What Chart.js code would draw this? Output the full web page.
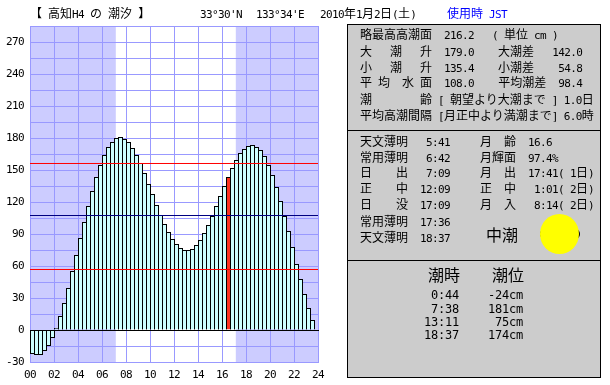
<!DOCTYPE html>
<html>
<head>
<meta charset="utf-8">
<script src="https://cdn.jsdelivr.net/npm/chart.js@4"></script>
<style>
html, body { margin: 0; padding: 0; background: #fff; }
#wrap { position: relative; width: 610px; height: 385px; overflow: hidden; }
canvas { position: absolute; left: 0; top: 0; }
#panel { position: absolute; left: 347px; top: 24px; width: 252px; height: 352px; background: #ccc; border: 1px solid #000; }
.rule { position: absolute; left: 347px; width: 254px; height: 1px; background: #000; }
.t { position: absolute; white-space: pre; font: 12px/16px "Noto Sans CJK JP", sans-serif; color: #000; }
.t span { font: 11px/16px "DejaVu Sans Mono", monospace; letter-spacing: -0.62px; }
.t.big { font-size: 16px; line-height: 20px; }
.t.mid span { font-size: 12px; letter-spacing: -0.22px; }
.blue { color: #00f; }
#moonEdge, #moon { position: absolute; border-radius: 50%; }
#moonEdge { left: 540px; top: 224px; width: 39.6px; height: 20px; background: #000; }
#moon { left: 540px; top: 214px; width: 39px; height: 40px; background: #ff0; }
</style>
</head>
<body>
<div id="wrap">
  <canvas id="tideChart" width="610" height="385"></canvas>
  <div id="panel"></div>
  <div class="rule" style="top:130px"></div>
  <div class="rule" style="top:260px"></div>
  <div id="moonEdge"></div>
  <div id="moon"></div>
</div>
<script>
var tideLevels = [
  -22.5, -23.44, -23.44, -19.69, -15, -7.5, 1.88, 13.13, 25.31, 39.38, 55.31, 70.31,
  86.25, 101.25, 116.25, 130.31, 143.44, 154.69, 164.06, 171.56, 176.25, 180, 180.94, 179.06,
  176.25, 170.63, 164.06, 156.56, 147.19, 136.88, 127.5, 117.19, 107.81, 99.38, 91.88, 85.31,
  80.63, 76.88, 75, 75, 75.94, 79.69, 84.38, 90.94, 98.44, 106.88, 116.25, 125.63,
  135, 143.44, 151.88, 159.38, 165.94, 169.69, 172.5, 173.44, 171.56, 168.75, 163.13, 154.69,
  145.31, 134.06, 120.94, 106.88, 92.81, 77.81, 61.88, 47.81, 33.75, 20.63, 9.38
];
var currentBar = 49;
var highMean = 156.1;
var meanLevel = 107.34;
var lowMean = 56.72;
var sunrise = 7.15;
var sunset = 17.15;

var headerTexts = [
  [30, 13, '【 高知H4 の 潮汐 】'],
  [200, 13, "33°30'N"],
  [256, 13, "133°34'E"],
  [320, 13, '2010年1月2日(土)']
];
var tableTexts = [
  [360, 34, '略最高高潮面  216.2   ( 単位 cm )'],
  [360, 51, '大   潮   升  179.0    大潮差   142.0'],
  [360, 67, '小   潮   升  135.4    小潮差    54.8'],
  [360, 82, '平 均  水 面  108.0    平均潮差  98.4'],
  [360, 99, '潮        齢 [ 朝望より大潮まで ] 1.0日'],
  [360, 115, '平均高潮間隔 [月正中より満潮まで] 6.0時'],
  [360, 141, '天文薄明   5:41'],
  [360, 157, '常用薄明   6:42'],
  [360, 172, '日    出   7:09'],
  [360, 188, '正    中  12:09'],
  [360, 204, '日    没  17:09'],
  [360, 221, '常用薄明  17:36'],
  [360, 237, '天文薄明  18:37'],
  [480, 141, '月  齢  16.6'],
  [480, 157, '月輝面  97.4%'],
  [480, 172, '月  出  17:41( 1日)'],
  [480, 188, '正  中   1:01( 2日)'],
  [480, 204, '月  入   8:14( 2日)']
];
var tideTimes = [' 0:44', ' 7:38', '13:11', '18:37'];
var tideHeights = ['-24cm', '181cm', ' 75cm', '174cm'];
var tideRowY = [294, 308, 321, 334];

// half width runs go in a mono span so columns line up like the original
function addText(x, y, str, cls) {
  var el = document.createElement('div');
  el.className = 't ' + (cls || '');
  el.style.left = x + 'px';
  el.style.top = (y - (cls && cls.indexOf('big') >= 0 ? 10 : 8)) + 'px';
  str.split(/([\x20-\x7e°]+)/).forEach(function (part, i) {
    if (!part) return;
    if (i % 2) {
      var s = document.createElement('span');
      s.textContent = part;
      el.appendChild(s);
    } else {
      el.appendChild(document.createTextNode(part));
    }
  });
  document.getElementById('wrap').appendChild(el);
}
headerTexts.concat(tableTexts).forEach(function (t) { addText(t[0], t[1], t[2]); });
addText(447, 13, '使用時 JST', 'blue');
addText(486, 234, '中潮', 'big');
addText(428, 274, '潮時', 'big');
addText(492, 274, '潮位', 'big');
tideRowY.forEach(function (y, i) {
  addText(424, y, tideTimes[i], 'mid');
  addText(488, y, tideHeights[i], 'mid');
});

var barColors = tideLevels.map(function (v, i) { return i === currentBar ? '#ff3322' : '#ccffff'; });
// bars are 5px wide with 1px overlap, so shift the centre to land on whole pixels
var barHours = tideLevels.map(function (v, i) { return i / 3 + 2.5 / 12; });

function ruleLine(level, color) {
  return {
    type: 'line',
    data: [{ x: 0, y: level }, { x: 24, y: level }],
    borderColor: color,
    borderWidth: 1,
    pointRadius: 0,
    order: 0
  };
}

var tideChart = new Chart(document.getElementById('tideChart'), {
  type: 'bar',
  data: {
    labels: barHours,
    datasets: [
      {
        data: tideLevels,
        backgroundColor: barColors,
        borderColor: '#000',
        borderWidth: 1,
        borderSkipped: 'start',
        inflateAmount: 0,
        barThickness: 5,
        order: 1
      },
      ruleLine(highMean, '#ff0000'),
      ruleLine(meanLevel, '#000080'),
      ruleLine(lowMean, '#ff0000')
    ]
  },
  options: {
    responsive: false,
    animation: false,
    events: [],
    layout: { padding: { left: 0, top: 26, right: 292, bottom: 0 } },
    plugins: { legend: { display: false }, tooltip: { enabled: false } },
    scales: {
      x: {
        type: 'linear',
        offset: false,
        min: 0,
        max: 24,
        afterFit: function (s) { s.height = 23; },
        grid: { offset: false, color: '#9999ff', drawTicks: false },
        border: { color: '#9999ff' },
        ticks: {
          stepSize: 2,
          autoSkip: false,
          maxRotation: 0,
          padding: 7,
          color: '#000',
          font: { family: '"DejaVu Sans Mono"', size: 11 },
          callback: function (v) { return String(v).padStart(2, '0'); }
        }
      },
      y: {
        min: -30,
        max: 285,
        afterFit: function (s) { s.width = 30; },
        grid: { color: '#9999ff', drawTicks: false },
        border: { color: '#9999ff' },
        ticks: {
          stepSize: 15,
          autoSkip: false,
          padding: 6,
          color: '#000',
          font: { family: '"DejaVu Sans Mono"', size: 11 },
          callback: function (v) { return v % 30 === 0 ? String(v) : ''; }
        }
      }
    }
  },
  plugins: [{
    id: 'nightShade',
    beforeDraw: function (chart) {
      var ctx = chart.ctx, a = chart.chartArea, x = chart.scales.x;
      ctx.letterSpacing = '-0.62px';
      ctx.save();
      ctx.fillStyle = '#ccccff';
      ctx.fillRect(a.left, a.top, x.getPixelForValue(sunrise) - a.left, a.bottom - a.top);
      ctx.fillRect(x.getPixelForValue(sunset), a.top, a.right - x.getPixelForValue(sunset), a.bottom - a.top);
      ctx.restore();
    },
    afterDatasetsDraw: function (chart) {
      // black zero line over the bar feet
      var ctx = chart.ctx, a = chart.chartArea;
      var y = Math.round(chart.scales.y.getPixelForValue(0)) + 0.5;
      ctx.save();
      ctx.strokeStyle = '#000';
      ctx.lineWidth = 1;
      ctx.beginPath();
      ctx.moveTo(a.left, y);
      ctx.lineTo(a.right + 1, y);
      ctx.stroke();
      ctx.restore();
    }
  }]
});
</script>
</body>
</html>
